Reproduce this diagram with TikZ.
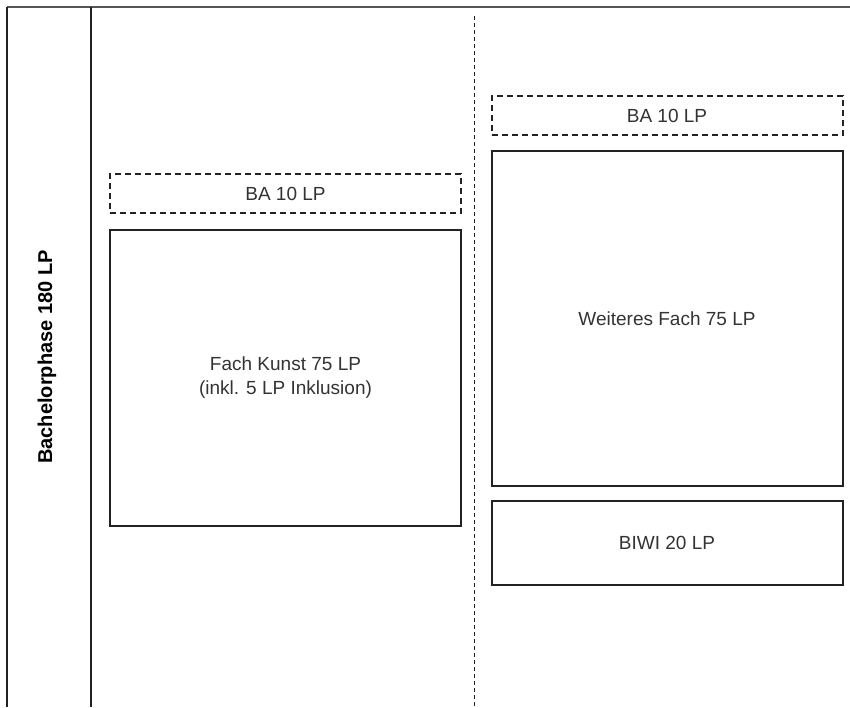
\documentclass[tikz,border=0pt]{standalone}
\usepackage{fontspec}
\setmainfont{Liberation Sans}
\usetikzlibrary{positioning}

\definecolor{linegray}{HTML}{555555}
\definecolor{boxline}{HTML}{222222}
\definecolor{textgray}{HTML}{333333}

\begin{document}
\begin{tikzpicture}[x=1pt, y=-1pt, node distance=14pt,
    fach/.style={rectangle, draw=boxline, line width=2pt, minimum width=351pt, text=textgray, font=\fontsize{19}{24}\selectfont, align=center, inner sep=0pt},
    bastyle/.style={fach, dashed, dash pattern=on 6pt off 4pt, minimum height=39pt}]
    \useasboundingbox (0,0) rectangle (850,707);

    % Frame
    \draw[linegray, line width=2pt] (7,7) -- (850,7);
    \draw[boxline, line width=1.6pt] (7,7) -- (7,707);
    \draw[boxline, line width=1.6pt] (91,7) -- (91,707);
    \draw[boxline, line width=0.9pt, dash pattern=on 4pt off 3pt] (474,16) -- (474,707);

    % Label of the phase
    \node[rotate=90, text=black, font=\fontsize{20}{22}\selectfont\bfseries] (phase) at (47,357) {Bachelorphase 180 LP};

    % Left column
    \node[fach, minimum height=296pt] (kunst) at (285.5,378) {Fach Kunst 75 LP\\(inkl. 5 LP Inklusion)};
    \node[bastyle, above=15pt of kunst] (baleft) {BA 10 LP};

    % Right column
    \node[fach, minimum height=335pt] (weiteres) at (667,318.5) {Weiteres Fach 75 LP};
    \node[bastyle, above=of weiteres] (baright) {BA 10 LP};
    \node[fach, minimum height=84pt, below=13pt of weiteres] (biwi) {BIWI 20 LP};
\end{tikzpicture}
\end{document}
